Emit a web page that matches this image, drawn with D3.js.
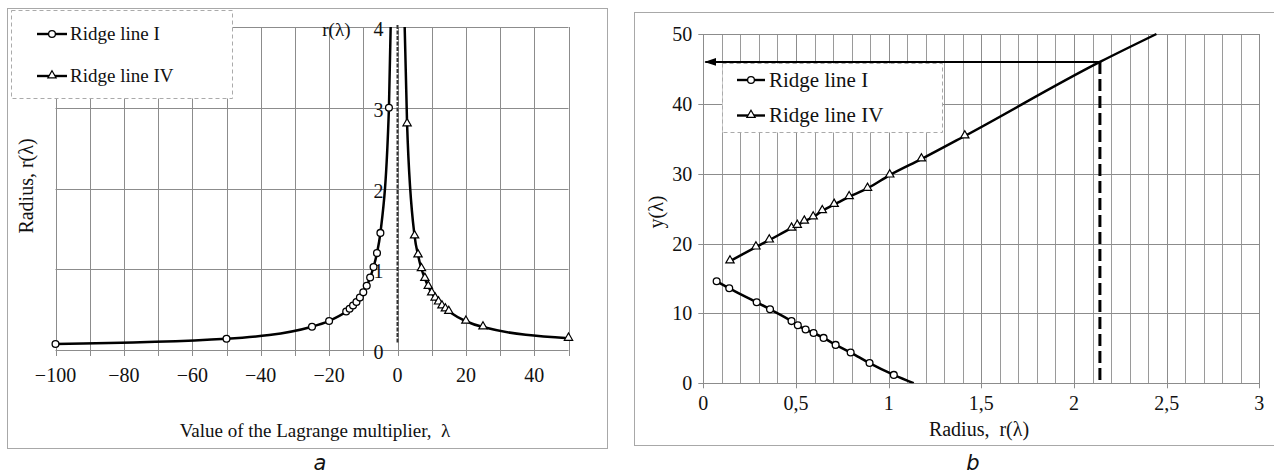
<!DOCTYPE html>
<html>
<head>
<meta charset="utf-8">
<script src="https://cdn.jsdelivr.net/npm/d3@7"></script>
<style>
    body { margin: 0; background: #fff; }
    svg { display: block; font-family: "Liberation Serif", "Times New Roman", serif; }
</style>
</head>
<body>
<svg id="chart" width="1274" height="476"></svg>
<script>

// panel a: r(lambda)
var lambdaTicks = [-100, -80, -60, -40, -20, 0, 20, 40];
var radiusTicksA = [0, 1, 2, 3, 4];
var ridge1A = [
    [-100, 0.075], [-50, 0.14], [-25, 0.288], [-20, 0.36], [-15, 0.476], [-14, 0.51],
    [-13, 0.552], [-12, 0.595], [-11, 0.649], [-10, 0.714], [-9, 0.795], [-8, 0.897],
    [-7, 1.028], [-6, 1.20], [-5, 1.45], [-2.5, 3.0]
];
var ridge1TailA = [[-2.0, 4.0]];
var ridge4A = [
    [2.8, 2.8], [5, 1.411], [6, 1.177], [7, 1.006], [8, 0.886], [9, 0.787], [10, 0.706],
    [11, 0.642], [12, 0.593], [13, 0.545], [14, 0.507], [15, 0.476], [20, 0.356],
    [25, 0.284], [50, 0.144]
];
var ridge4HeadA = [[2.1, 4.0]];
var asymptoteA = [0];

// panel b: y(r)
var radiusTicksB = [0, 0.5, 1, 1.5, 2, 2.5, 3];
var radiusTickLabelsB = ["0", "0,5", "1", "1,5", "2", "2,5", "3"];
var yTicksB = [0, 10, 20, 30, 40, 50];
var ridge1B = [
    [0.072, 14.6], [0.14, 13.6], [0.288, 11.6], [0.36, 10.6], [0.476, 8.9], [0.51, 8.3],
    [0.552, 7.7], [0.595, 7.2], [0.649, 6.5], [0.714, 5.5], [0.795, 4.4], [0.897, 2.9],
    [1.028, 1.2]
];
var ridge1TailB = [[1.135, 0]];
var ridge4B = [
    [0.144, 17.5], [0.284, 19.5], [0.356, 20.5], [0.476, 22.2], [0.507, 22.6], [0.545, 23.2],
    [0.593, 23.8], [0.642, 24.7], [0.706, 25.6], [0.787, 26.7], [0.886, 27.9], [1.006, 29.8],
    [1.177, 32.1], [1.411, 35.4]
];
var ridge4TailB = [[2.14, 46.0], [2.445, 50.0]];
var readOffB = [2.14, 46.0];

var legendNames = ["Ridge line I", "Ridge line IV"];
var legendShapes = ["circle", "triangle"];

var gridColor = "#8c8c8c";
var frameColor = "#a8a8a8";
var textColor = "#111";

var svg = d3.select("#chart");
var defs = svg.append("defs");

defs.append("marker")
    .attr("id", "arrow")
    .attr("viewBox", "0 0 12 8")
    .attr("refX", 11)
    .attr("refY", 4)
    .attr("markerWidth", 12)
    .attr("markerHeight", 8)
    .attr("markerUnits", "userSpaceOnUse")
    .attr("orient", "auto")
    .append("path")
        .attr("d", "M0,0 L12,4 L0,8 Z")
        .attr("fill", "#000");

function drawMarker(g, shape, x, y) {
    if (shape == "circle") {
        g.append("circle")
            .attr("cx", x).attr("cy", y).attr("r", 3.4)
            .attr("fill", "#fff").attr("stroke", "#000").attr("stroke-width", 1.3);
    } else {
        g.append("path")
            .attr("d", d3.symbol(d3.symbolTriangle, 30)())
            .attr("transform", "translate(" + x + "," + (y - 0.5) + ")")
            .attr("fill", "#fff").attr("stroke", "#000").attr("stroke-width", 1.2);
    }
}

function drawLegend(g, box, fontSize) {
    g.append("rect")
        .attr("x", box.x).attr("y", box.y)
        .attr("width", box.w).attr("height", box.h)
        .attr("fill", "#fff")
        .attr("stroke", "#aaa")
        .attr("stroke-dasharray", "4,3");

    legendNames.forEach(function (name, i) {
        var cy = box.rows[i];
        g.append("line")
            .attr("x1", box.lx).attr("x2", box.lx + box.lw)
            .attr("y1", cy).attr("y2", cy)
            .attr("stroke", "#000").attr("stroke-width", 2.4);
        drawMarker(g, legendShapes[i], box.lx + box.lw / 2, cy);
        g.append("text")
            .attr("x", box.tx).attr("y", cy)
            .attr("dy", "0.33em")
            .attr("font-size", fontSize)
            .attr("fill", textColor)
            .text(name);
    });
}

function drawSeries(g, x, y, points, shape, tailBefore, tailAfter, clipId) {
    var line = d3.line()
        .x(function (d) { return x(d[0]); })
        .y(function (d) { return y(d[1]); })
        .curve(d3.curveMonotoneX);

    var all = tailBefore.concat(points).concat(tailAfter);

    g.append("path")
        .datum(all)
        .attr("clip-path", "url(#" + clipId + ")")
        .attr("d", line)
        .attr("fill", "none")
        .attr("stroke", "#000")
        .attr("stroke-width", 2.5)
        .attr("stroke-linejoin", "round");

    points.forEach(function (d) {
        drawMarker(g, shape, x(d[0]), y(d[1]));
    });
}

// ---------------- panel a ----------------

(function () {
    var g = svg.append("g");

    g.append("rect")
        .attr("x", 7.5).attr("y", 8.5).attr("width", 600).attr("height", 440)
        .attr("fill", "#fff").attr("stroke", frameColor);

    var x = d3.scaleLinear().domain([-100, 50]).range([55.5, 568.5]);
    var y = d3.scaleLinear().domain([0, 4]).range([350, 27]);

    defs.append("clipPath").attr("id", "clipA")
        .append("rect")
            .attr("x", x(-100) - 5).attr("y", y(4))
            .attr("width", x(50) - x(-100) + 10).attr("height", y(0) - y(4));

    // vertical grid every 10, extended below axis as ticks
    g.append("g").selectAll("line")
        .data(d3.range(-100, 51, 10))
        .join("line")
            .attr("x1", function (d) { return Math.round(x(d)) + 0.5; })
            .attr("x2", function (d) { return Math.round(x(d)) + 0.5; })
            .attr("y1", y(4))
            .attr("y2", y(0) + 6)
            .attr("stroke", gridColor)
            .attr("stroke-width", 1);

    g.append("g").selectAll("line")
        .data(radiusTicksA)
        .join("line")
            .attr("x1", x(-100))
            .attr("x2", x(50))
            .attr("y1", function (d) { return Math.round(y(d)) + 0.5; })
            .attr("y2", function (d) { return Math.round(y(d)) + 0.5; })
            .attr("stroke", gridColor)
            .attr("stroke-width", 1);

    // tick labels
    g.append("g").selectAll("text")
        .data(lambdaTicks)
        .join("text")
            .attr("x", function (d) { return x(d); })
            .attr("y", y(0) + 32)
            .attr("text-anchor", "middle")
            .attr("font-size", 20)
            .attr("fill", textColor)
            .text(function (d) { return d < 0 ? "\u2212" + Math.abs(d) : d; });

    g.append("g").selectAll("text")
        .data(radiusTicksA)
        .join("text")
            .attr("x", x(0) - 14)
            .attr("y", function (d) { return y(d) + 9; })
            .attr("text-anchor", "end")
            .attr("font-size", 20)
            .attr("fill", textColor)
            .text(function (d) { return d; });

    g.append("text")
        .attr("x", x(0) - 47)
        .attr("y", y(4) + 9)
        .attr("text-anchor", "end")
        .attr("font-size", 19)
        .attr("fill", textColor)
        .text("r(\u03bb)");

    // asymptote
    g.append("g").selectAll("line")
        .data(asymptoteA)
        .join("line")
            .attr("x1", function (d) { return x(d); })
            .attr("x2", function (d) { return x(d); })
            .attr("y1", y(4) - 2)
            .attr("y2", y(0) - 7)
            .attr("stroke", "#333")
            .attr("stroke-width", 2)
            .attr("stroke-dasharray", "4,1.5");

    drawSeries(g, x, y, ridge1A, "circle", [], ridge1TailA, "clipA");
    drawSeries(g, x, y, ridge4A, "triangle", ridge4HeadA, [], "clipA");

    // axis titles
    g.append("text")
        .attr("x", 315)
        .attr("y", 437)
        .attr("text-anchor", "middle")
        .attr("font-size", 19)
        .attr("fill", textColor)
        .attr("xml:space", "preserve")
        .text("Value of the Lagrange multiplier,  \u03bb");

    g.append("text")
        .attr("transform", "translate(33,186) rotate(-90)")
        .attr("text-anchor", "middle")
        .attr("font-size", 20)
        .attr("fill", textColor)
        .text("Radius, r(\u03bb)");

    drawLegend(g, {
        x: 11.5, y: 10.5, w: 221, h: 88,
        rows: [34, 76], lx: 37, lw: 30, tx: 70
    }, 19);

    g.append("text")
        .attr("x", 320)
        .attr("y", 470)
        .attr("text-anchor", "middle")
        .attr("font-family", "'DejaVu Sans', sans-serif")
        .attr("font-style", "italic")
        .attr("font-size", 21)
        .attr("fill", textColor)
        .text("a");
})();

// ---------------- panel b ----------------

(function () {
    var g = svg.append("g");

    g.append("rect")
        .attr("x", 634.5).attr("y", 12.5).attr("width", 660).attr("height", 433)
        .attr("fill", "#fff").attr("stroke", frameColor);

    var x = d3.scaleLinear().domain([0, 3]).range([703.3, 1259.3]);
    var y = d3.scaleLinear().domain([0, 50]).range([383.3, 34]);

    defs.append("clipPath").attr("id", "clipB")
        .append("rect")
            .attr("x", x(0)).attr("y", y(50) - 2)
            .attr("width", x(3) - x(0)).attr("height", y(0) - y(50) + 2);

    // minor vertical grid every 0.1
    g.append("g").selectAll("line")
        .data(d3.range(0, 31).map(function (i) { return i / 10; }))
        .join("line")
            .attr("x1", function (d) { return Math.round(x(d)) + 0.5; })
            .attr("x2", function (d) { return Math.round(x(d)) + 0.5; })
            .attr("y1", y(50))
            .attr("y2", function (d, i) { return i % 5 == 0 ? y(0) + 5 : y(0); })
            .attr("stroke", function (d, i) { return i % 5 == 0 ? gridColor : "#9a9a9a"; })
            .attr("stroke-width", 1);

    g.append("g").selectAll("line")
        .data(yTicksB)
        .join("line")
            .attr("x1", x(0) - 5)
            .attr("x2", x(3))
            .attr("y1", function (d) { return Math.round(y(d)) + 0.5; })
            .attr("y2", function (d) { return Math.round(y(d)) + 0.5; })
            .attr("stroke", gridColor)
            .attr("stroke-width", 1);

    g.append("g").selectAll("text")
        .data(radiusTicksB)
        .join("text")
            .attr("x", function (d) { return x(d); })
            .attr("y", y(0) + 27)
            .attr("text-anchor", "middle")
            .attr("font-size", 20)
            .attr("fill", textColor)
            .text(function (d, i) { return radiusTickLabelsB[i]; });

    g.append("g").selectAll("text")
        .data(yTicksB)
        .join("text")
            .attr("x", x(0) - 11)
            .attr("y", function (d) { return y(d) + 7; })
            .attr("text-anchor", "end")
            .attr("font-size", 20)
            .attr("fill", textColor)
            .text(function (d) { return d; });

    drawSeries(g, x, y, ridge1B, "circle", [], ridge1TailB, "clipB");
    drawSeries(g, x, y, ridge4B, "triangle", [], ridge4TailB, "clipB");

    // read-off lines at the chosen point
    g.append("line")
        .attr("x1", x(readOffB[0]))
        .attr("x2", x(readOffB[0]))
        .attr("y1", y(readOffB[1]))
        .attr("y2", y(0))
        .attr("stroke", "#000")
        .attr("stroke-width", 3)
        .attr("stroke-dasharray", "12,5");

    drawLegend(g, {
        x: 722.5, y: 63.5, w: 220, h: 69,
        rows: [80, 115.5], lx: 737, lw: 28, tx: 769
    }, 21);

    g.append("line")
        .attr("x1", x(readOffB[0]))
        .attr("x2", x(0) + 2)
        .attr("y1", y(readOffB[1]))
        .attr("y2", y(readOffB[1]))
        .attr("stroke", "#000")
        .attr("stroke-width", 2)
        .attr("marker-end", "url(#arrow)");

    g.append("text")
        .attr("x", 979)
        .attr("y", 436)
        .attr("text-anchor", "middle")
        .attr("font-size", 20)
        .attr("fill", textColor)
        .attr("xml:space", "preserve")
        .text("Radius,  r(\u03bb)");

    g.append("text")
        .attr("transform", "translate(663,212) rotate(-90)")
        .attr("text-anchor", "middle")
        .attr("font-size", 20)
        .attr("fill", textColor)
        .text("y(\u03bb)");

    g.append("text")
        .attr("x", 973)
        .attr("y", 470)
        .attr("text-anchor", "middle")
        .attr("font-family", "'DejaVu Sans', sans-serif")
        .attr("font-style", "italic")
        .attr("font-size", 21)
        .attr("fill", textColor)
        .text("b");
})();

</script>
</body>
</html>
